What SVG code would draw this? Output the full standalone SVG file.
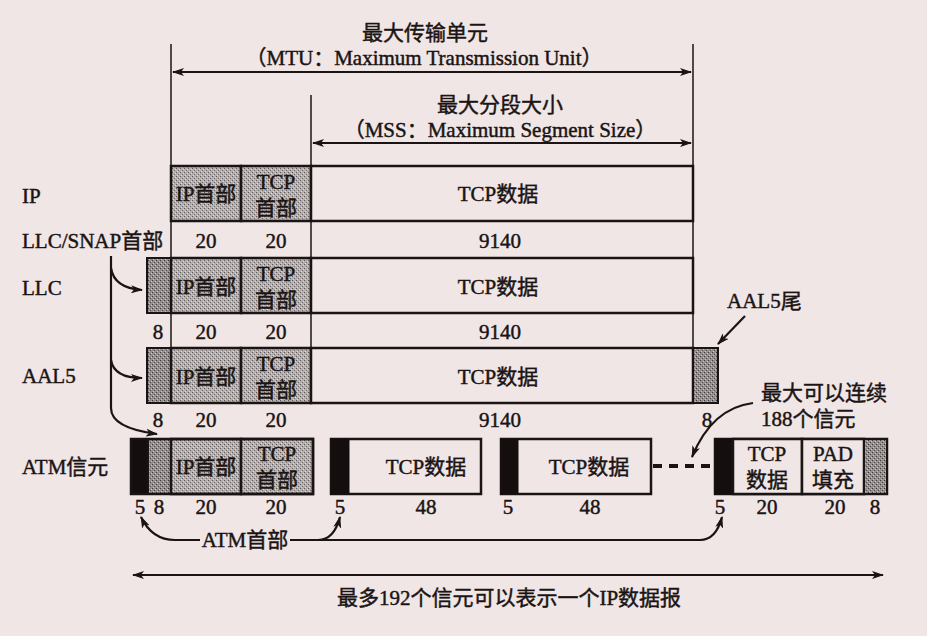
<svg xmlns="http://www.w3.org/2000/svg" width="927" height="636" viewBox="0 0 927 636">
<defs>
<style>
text{font-family:"Liberation Serif","Noto Sans CJK SC",serif;fill:#1a1414;font-size:21px;stroke:#1a1414;stroke-width:0.45}
.c{text-anchor:middle}
.box{fill:none;stroke:#1a1414;stroke-width:2.5}
.wh{fill:#f0e6e5;stroke:#1a1414;stroke-width:2.5}
.hd{fill:url(#stip);stroke:#1a1414;stroke-width:2.5}
.dk{fill:url(#stip2);stroke:#1a1414;stroke-width:2}
.blk{fill:#140e0e;stroke:#140e0e;stroke-width:1}
.thin{stroke:#1a1414;stroke-width:1.5;fill:none}
.ln{stroke:#1a1414;stroke-width:2.2;fill:none}
</style>
<pattern id="stip" width="4" height="4" patternUnits="userSpaceOnUse">
<rect width="4" height="4" fill="#b4aeae"/>
<rect x="0" y="0" width="1" height="1" fill="#5e5858"/>
<rect x="2" y="2" width="1" height="1" fill="#6e6868"/>
<rect x="3" y="1" width="1" height="1" fill="#dcd6d6"/>
<rect x="1" y="3" width="1" height="1" fill="#dcd6d6"/>
</pattern>
<pattern id="stip2" width="4" height="4" patternUnits="userSpaceOnUse">
<rect width="4" height="4" fill="#948e8e"/>
<rect x="0" y="0" width="1" height="1" fill="#3e3838"/>
<rect x="2" y="2" width="1" height="1" fill="#4e4848"/>
<rect x="3" y="1" width="1" height="1" fill="#c8c2c2"/>
<rect x="1" y="3" width="1" height="1" fill="#c8c2c2"/>
</pattern>
<marker id="ah" viewBox="0 0 12 8" refX="11" refY="4" markerWidth="12" markerHeight="8" markerUnits="userSpaceOnUse" orient="auto-start-reverse">
<path d="M0,0 L12,4 L0,8 L3,4 Z" fill="#1a1414"/>
</marker>
</defs>
<rect width="927" height="636" fill="#f0e6e5"/>

<g id="labels">
<text x="22" y="203">IP</text>
<text x="22" y="248">LLC/SNAP首部</text>
<text x="22" y="295">LLC</text>
<text x="22" y="383">AAL5</text>
<text x="22" y="474">ATM信元</text>
</g>

<g id="mtu">
<text class="c" x="425" y="40">最大传输单元</text>
<text class="c" x="424" y="65" font-size="22">（MTU：Maximum Transmission Unit）</text>
</g>
<g id="mss">
<text class="c" x="500" y="112">最大分段大小</text>
<text class="c" x="500" y="137" font-size="22">（MSS：Maximum Segment Size）</text>
</g>

<g id="ip-row">
<rect class="hd" x="171" y="166" width="70" height="55"/>
<rect class="hd" x="241" y="166" width="70" height="55"/>
<rect class="wh" x="311" y="166" width="382" height="55"/>
<text class="c" x="206" y="201">IP首部</text>
<text class="c" x="276" y="189">TCP</text>
<text class="c" x="276" y="215">首部</text>
<text class="c" x="498" y="201">TCP数据</text>
</g>
<g id="ip-sizes">
<text class="c" x="206" y="248">20</text>
<text class="c" x="276" y="248">20</text>
<text class="c" x="500" y="248">9140</text>
</g>

<g id="llc-row">
<rect class="dk" x="147" y="258" width="24" height="55"/>
<rect class="hd" x="171" y="258" width="70" height="55"/>
<rect class="hd" x="241" y="258" width="70" height="55"/>
<rect class="wh" x="311" y="258" width="382" height="55"/>
<text class="c" x="206" y="294">IP首部</text>
<text class="c" x="276" y="281">TCP</text>
<text class="c" x="276" y="307">首部</text>
<text class="c" x="498" y="294">TCP数据</text>
</g>
<g id="llc-sizes">
<text class="c" x="158" y="339">8</text>
<text class="c" x="206" y="339">20</text>
<text class="c" x="276" y="339">20</text>
<text class="c" x="500" y="339">9140</text>
</g>

<g id="aal5-row">
<rect class="dk" x="147" y="348" width="24" height="55"/>
<rect class="hd" x="171" y="348" width="70" height="55"/>
<rect class="hd" x="241" y="348" width="70" height="55"/>
<rect class="wh" x="311" y="348" width="382" height="55"/>
<rect class="dk" x="693" y="348" width="25" height="55"/>
<text class="c" x="206" y="384">IP首部</text>
<text class="c" x="276" y="371">TCP</text>
<text class="c" x="276" y="397">首部</text>
<text class="c" x="498" y="384">TCP数据</text>
</g>
<g id="aal5-sizes">
<text class="c" x="158" y="427">8</text>
<text class="c" x="206" y="427">20</text>
<text class="c" x="276" y="427">20</text>
<text class="c" x="500" y="427">9140</text>
<text class="c" x="707" y="427">8</text>
</g>
<g id="aal5-tail-label">
<text x="727" y="308">AAL5尾</text>
</g>

<g id="atm-cell-1">
<rect class="blk" x="131" y="439" width="17" height="55"/>
<rect class="dk" x="148" y="439" width="23" height="55"/>
<rect class="hd" x="171" y="439" width="70" height="55"/>
<rect class="hd" x="241" y="439" width="72" height="55"/>
<rect class="box" x="131" y="439" width="182" height="55"/>
<text class="c" x="206" y="474">IP首部</text>
<text class="c" x="277" y="461">TCP</text>
<text class="c" x="277" y="487">首部</text>
</g>
<g id="atm-cell-2">
<rect class="wh" x="331" y="439" width="150" height="55"/>
<rect class="blk" x="331" y="439" width="18" height="55"/>
<text class="c" x="426" y="474">TCP数据</text>
</g>
<g id="atm-cell-3">
<rect class="wh" x="501" y="439" width="150" height="55"/>
<rect class="blk" x="501" y="439" width="17" height="55"/>
<text class="c" x="589" y="474">TCP数据</text>
</g>
<g id="atm-cell-last">
<rect class="wh" x="715" y="439" width="172" height="55"/>
<rect class="blk" x="715" y="439" width="18" height="55"/>
<rect class="wh" x="733" y="439" width="69" height="55"/>
<rect class="wh" x="802" y="439" width="62" height="55"/>
<rect class="dk" x="864" y="439" width="23" height="55"/>
<text class="c" x="767" y="461">TCP</text>
<text class="c" x="767" y="487">数据</text>
<text class="c" x="833" y="461">PAD</text>
<text class="c" x="833" y="487">填充</text>
</g>
<g id="atm-sizes">
<text class="c" x="140" y="514">5</text>
<text class="c" x="159" y="514">8</text>
<text class="c" x="206" y="514">20</text>
<text class="c" x="276" y="514">20</text>
<text class="c" x="340" y="514">5</text>
<text class="c" x="426" y="514">48</text>
<text class="c" x="508" y="514">5</text>
<text class="c" x="590" y="514">48</text>
<text class="c" x="720" y="514">5</text>
<text class="c" x="767" y="514">20</text>
<text class="c" x="835" y="514">20</text>
<text class="c" x="875" y="514">8</text>
</g>
<g id="max-cells-label">
<text x="761" y="400">最大可以连续</text>
<text x="761" y="426">188个信元</text>
</g>
<g id="atm-header-label">
<text class="c" x="245" y="547">ATM首部</text>
</g>
<g id="total-label">
<text class="c" x="509" y="605">最多192个信元可以表示一个IP数据报</text>
</g>

<g id="connectors">
<line class="thin" x1="171" y1="44" x2="171" y2="348"/>
<line class="thin" x1="693" y1="44" x2="693" y2="348"/>
<line class="thin" x1="311" y1="95" x2="311" y2="348"/>
<line class="ln" x1="173" y1="72" x2="691" y2="72" marker-start="url(#ah)" marker-end="url(#ah)"/>
<line class="ln" x1="313" y1="143" x2="691" y2="143" marker-start="url(#ah)" marker-end="url(#ah)"/>
<path class="ln" d="M111,256 L111,408 Q111,428 157,434" marker-end="url(#ah)"/>
<path class="ln" d="M111,268 Q114,288 142,290" marker-end="url(#ah)"/>
<path class="ln" d="M111,360 Q114,378 142,378" marker-end="url(#ah)"/>
<line class="ln" x1="745" y1="316" x2="718" y2="344" marker-end="url(#ah)"/>
<line x1="653" y1="466" x2="715" y2="466" stroke="#1a1414" stroke-width="4" stroke-dasharray="9,7"/>
<path class="ln" d="M753,403 Q712,408 692,457" marker-end="url(#ah)"/>
<path class="ln" d="M200,540 L175,540 Q152,540 141,517" marker-end="url(#ah)"/>
<path class="ln" d="M290,540 L700,540 Q716,540 722,517" marker-end="url(#ah)"/>
<path class="ln" d="M318,540 Q334,540 340,517" marker-end="url(#ah)"/>
<line class="ln" x1="133" y1="575" x2="883" y2="575" stroke-width="2.6" marker-start="url(#ah)" marker-end="url(#ah)"/>
</g>
</svg>
